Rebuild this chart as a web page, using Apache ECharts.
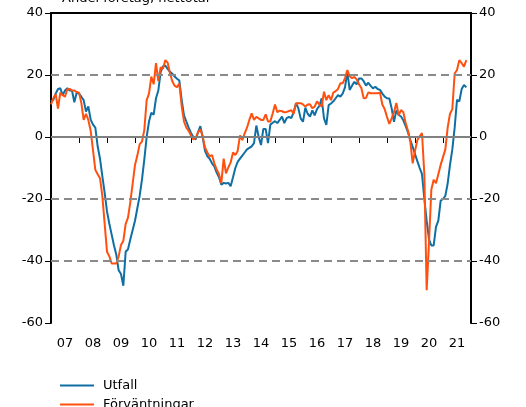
<!DOCTYPE html>
<html>
<head>
<meta charset="utf-8">
<script src="https://cdn.jsdelivr.net/npm/echarts@6/dist/echarts.min.js"></script>
<style>
  html, body { margin: 0; padding: 0; background: #fff; }
  #chart { width: 526px; height: 407px; }
</style>
</head>
<body>
<div id="chart"></div>
<script>
// years on the x axis, months counted from jan 2007
const years = ["07", "08", "09", "10", "11", "12", "13", "14", "15", "16", "17", "18", "19", "20", "21"];

// Utfall, monthly
const utfall = [
  11.5, 12, 14, 15.5, 15.7, 13.5, 15, 15.7, 15, 15, 11.2, 14.3,
  14, 13, 11.9, 8.2, 9.9, 5.6, 4, 3, -3, -7, -12.6, -18,
  -24, -28, -31.5, -35, -38, -43, -44.2, -48, -37, -36.2, -33, -30,
  -27, -23, -19, -13.7, -7.2, 0, 5, 7.8, 7.2, 12.5, 15, 21,
  22.8, 23, 22, 21, 20.4, 19.5, 18.8, 18.2, 12, 7, 5, 3,
  1.3, 0, -0.8, 1.5, 3.5, 0, -4.5, -6.2, -7, -8.5, -9.5, -11.5,
  -13, -15.4, -14.8, -15, -14.8, -15.9, -13, -10, -8, -7, -6, -5,
  -4, -3.5, -3, -2, 3.7, 0, -2.6, 2.6, 2.6, -2, 4, 4.6,
  5.1, 4.5, 5.5, 6.6, 4.5, 6.1, 6.5, 6.1, 8, 10.9, 9.3, 6,
  4.9, 9.5, 7.5, 6.6, 8.6, 7, 9, 10, 12.5, 6, 3.9, 10.3,
  10.8, 11.5, 12.5, 13.5, 13, 14, 16, 21, 15.2, 16.5, 17.8, 17,
  18.9, 18.9, 18, 16.6, 17.5, 16.5, 15.7, 16.2, 15.5, 15.2, 14, 13,
  12.5, 12.4, 9.2, 4.9, 8.6, 7.1, 6.6, 5.4, 3.5, 1.5, -1, -3.2,
  -5.5, -7.8, -10, -12, -20, -27, -33, -35, -35, -29, -27, -20.5,
  -20, -19, -15, -9, -4, 3, 12, 11.5, 15.5, 16.8, 16
];

// Förväntningar, monthly
const forvantningar = [
  10.5, 12.5, 13.8, 9.2, 14.3, 13.5, 13, 15.4, 15.5, 15, 15, 14.5,
  14.3, 11, 5.5, 7.5, 5.5, 2, -4.2, -10.6, -12, -13.3, -19, -28,
  -37, -38.5, -40.8, -40.8, -40.8, -38.5, -34.8, -33.5, -28, -26, -21, -15,
  -9, -6, -2.3, -1.5, 2.3, 11.9, 14, 19.5, 17, 23.8, 18, 22.5,
  22, 24.8, 24, 20.5, 18, 16.5, 16.1, 17.2, 10, 5, 3, 2,
  0.5, -0.8, -0.3, 1.5, 2.5, 0.2, -3.4, -5, -6.3, -5.8, -8.5, -10.5,
  -12, -14.9, -7, -11.7, -9.8, -8.2, -5, -5.8, -4.5, 0.5, -1, 1.2,
  3, 5.5, 7.6, 5.5, 6.5, 6, 5.5, 5.5, 7.3, 5, 5, 7.6,
  10.5, 8, 8.5, 8.3, 8, 8.1, 8.4, 8.6, 7.5, 10.9, 10.9, 10.9,
  10.5, 9.8, 10.5, 10.6, 9.3, 9.8, 11.5, 10.5, 9.8, 14.6, 11.9, 13.5,
  11.9, 14.3, 14.8, 15.5, 17.3, 17.3, 19, 21.6, 19.6, 19, 19.4, 18.6,
  17, 15.8, 12.5, 12.6, 14.4, 14.1, 14.1, 14.1, 14.1, 14.3, 10.5, 9,
  6.5, 4.2, 6, 8, 11, 7, 8.7, 8, 4.5, 2, -1.5, -8.5,
  -4.5, -1, 0.2, 1.3, -12, -49.4, -34, -17, -13.8, -14.9, -12, -9,
  -6.5, -4, 3, 7.5, 9, 20.5, 21.6, 24.8, 23.8, 22.7, 24.8
];

const dashedLines = [20, -20, -40];

const chart = echarts.init(document.getElementById("chart"));

const font = "DejaVu Sans";
const yAxisBase = {
  type: "value",
  min: -60,
  max: 40,
  interval: 20,
  axisLine: { show: true, lineStyle: { color: "#000", width: 2 } },
  axisTick: { show: true, length: 6, lineStyle: { color: "#000", width: 1 } },
  axisLabel: { color: "#000", fontSize: 13, fontFamily: font, margin: 8 },
  splitLine: { show: false }
};

const legendBase = {
  orient: "vertical",
  left: 55,
  itemWidth: 34,
  itemHeight: 2,
  icon: "rect",
  textStyle: { color: "#000", fontSize: 13, fontFamily: font, padding: [0, 0, 0, 4] }
};

const option = {
  animation: false,
  grid: { left: 51, right: 55, top: 13, bottom: 84 },
  graphic: [
    {
      type: "text",
      left: 62,
      top: -8,
      style: { text: "Andel företag, nettotal", font: "13px " + font, fill: "#000" }
    }
  ],
  legend: [
    Object.assign({}, legendBase, { top: 374, data: ["Utfall"] }),
    Object.assign({}, legendBase, { top: 393, data: ["Förväntningar"] })
  ],
  xAxis: [
    {
      type: "category",
      data: years,
      boundaryGap: true,
      position: "bottom",
      axisLine: { lineStyle: { color: "#000", width: 2 } },
      axisTick: { show: true, length: 6, lineStyle: { color: "#000", width: 1 } },
      axisLabel: { color: "#000", fontSize: 13, fontFamily: font, margin: 14 },
      splitLine: { show: false }
    },
    {
      type: "value",
      min: 0,
      max: 180,
      show: false
    },
    {
      type: "category",
      data: years,
      position: "top",
      axisLine: { lineStyle: { color: "#000", width: 2 } },
      axisTick: { show: false },
      axisLabel: { show: false }
    }
  ],
  yAxis: [
    Object.assign({}, yAxisBase, { position: "left" }),
    Object.assign({}, yAxisBase, { position: "right" })
  ],
  series: [
    {
      name: "Utfall",
      type: "line",
      xAxisIndex: 1,
      yAxisIndex: 0,
      showSymbol: false,
      color: "#0f6fa3",
      lineStyle: { width: 2, color: "#0f6fa3" },
      data: utfall.map((v, i) => [i, v]),
      markLine: {
        silent: true,
        symbol: "none",
        label: { show: false },
        data: [
          ...dashedLines.map(v => ({ yAxis: v, lineStyle: { color: "#8a8a8a", width: 2, type: [8, 5] } })),
          { yAxis: 0, lineStyle: { color: "#808080", width: 2, type: "solid" } }
        ]
      },
      z: 3
    },
    {
      name: "Förväntningar",
      type: "line",
      xAxisIndex: 1,
      yAxisIndex: 0,
      showSymbol: false,
      color: "#ff5010",
      lineStyle: { width: 2, color: "#ff5010" },
      data: forvantningar.map((v, i) => [i, v]),
      z: 4
    }
  ]
};

chart.setOption(option);
</script>
</body>
</html>
